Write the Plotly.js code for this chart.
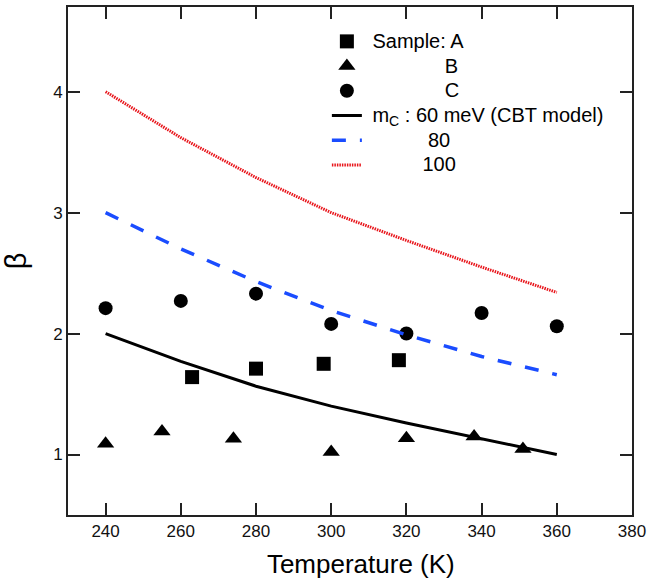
<!DOCTYPE html>
<html>
<head>
<meta charset="utf-8">
<script src="https://cdn.plot.ly/plotly-3.0.1.min.js"></script>
<style>html,body{margin:0;padding:0;background:#fff;}#chart{width:647px;height:584px;}</style>
</head>
<body>
<div id="chart"></div>
<script>
// Sample data (Temperature K, beta)
const tempA = [263, 280, 298, 318];
const betaA = [1.64, 1.71, 1.75, 1.78];
const tempB = [240, 255, 274, 300, 320, 338, 351];
const betaB = [1.09, 1.19, 1.13, 1.02, 1.135, 1.15, 1.045];
const tempC = [240, 260, 280, 300, 320, 340, 360];
const betaC = [2.21, 2.27, 2.33, 2.08, 2.00, 2.17, 2.06];
// CBT model curves
const tempModel = [240, 260, 280, 300, 320, 340, 360];
const beta60 = [2.00, 1.77, 1.565, 1.40, 1.26, 1.13, 1.00];
const beta80 = [3.00, 2.70, 2.43, 2.19, 1.99, 1.81, 1.66];
const beta100 = [4.00, 3.62, 3.29, 3.00, 2.77, 2.55, 2.34];
const xTicks = [240, 260, 280, 300, 320, 340, 360, 380];
const yTicks = [1, 2, 3, 4];

const FONT = 'Liberation Sans, Arial, Helvetica, sans-serif';
const nb = n => '\u00a0'.repeat(n);
const big = s => '<span style="font-size:20px">' + s + '</span>';

const traces = [
  {x: tempA, y: betaA, mode: 'markers', type: 'scatter', name: big(nb(1) + 'Sample: A'),
   marker: {symbol: 'square', size: 14, color: '#000'}},
  {x: tempB, y: betaB, mode: 'markers', type: 'scatter', name: big(nb(14) + 'B'),
   marker: {symbol: 'triangle-up', size: 15, color: '#000'}},
  {x: tempC, y: betaC, mode: 'markers', type: 'scatter', name: big(nb(14) + 'C'),
   marker: {symbol: 'circle', size: 14, color: '#000'}},
  {x: tempModel, y: beta60, mode: 'lines', type: 'scatter', name: big(nb(1) + 'm<sub>C</sub> : 60 meV (CBT model)'),
   line: {color: '#000', width: 3}},
  {x: tempModel, y: beta80, mode: 'lines', type: 'scatter', name: big(nb(11) + '80'),
   line: {color: '#1a4cff', width: 3.5, dash: '14px,14px'}},
  {x: tempModel, y: beta100, mode: 'lines', type: 'scatter', name: big(nb(10) + '100'),
   line: {color: '#e8151b', width: 3, dash: '1.5px,1px'}}
];

const axisCommon = {
  ticks: 'inside', ticklen: 12, tickwidth: 2, tickcolor: '#222',
  showline: true, linecolor: '#222', linewidth: 2, mirror: 'ticks',
  showgrid: false, zeroline: false,
  tickfont: {family: FONT, size: 17, color: '#111'}
};

const layout = {
  width: 647, height: 584,
  margin: {l: 68, r: 15, t: 7, b: 69},
  paper_bgcolor: '#fff', plot_bgcolor: '#fff',
  font: {family: FONT, color: '#000'},
  showlegend: true,
  legend: {x: 0.459, xanchor: 'left', y: 0.9665, yanchor: 'top',
           bgcolor: 'rgba(0,0,0,0)', borderwidth: 0,
           font: {family: FONT, size: 16.7, color: '#000'}},
  xaxis: Object.assign({}, axisCommon, {
    range: [230, 380], tickvals: xTicks, ticktext: xTicks.map(String),
    title: {text: '<span>' + nb(3) + '</span>Temperature (K)', font: {family: FONT, size: 26, color: '#000'}, standoff: 14}
  }),
  yaxis: Object.assign({}, axisCommon, {
    range: [0.5, 4.7], tickvals: yTicks, ticktext: yTicks.map(String),
    title: {text: 'β', font: {family: FONT, size: 29, color: '#000'}, standoff: 24}
  })
};

Plotly.newPlot('chart', traces, layout, {displayModeBar: false, staticPlot: true});
</script>
</body>
</html>
